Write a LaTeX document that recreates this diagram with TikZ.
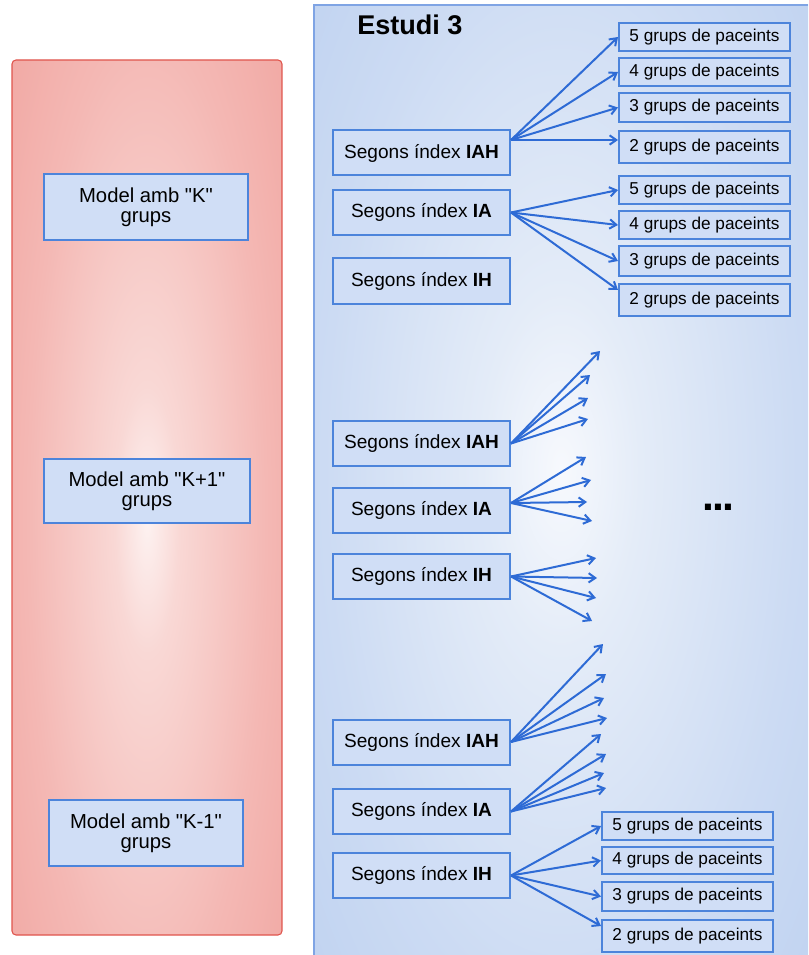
\documentclass[tikz,border=0pt]{standalone}
\usepackage{fontspec}
\setmainfont{Liberation Sans}[Ligatures=TeXOff]
\usetikzlibrary{arrows.meta,calc}
\definecolor{rA}{HTML}{FDF2F1}
\definecolor{rB}{HTML}{F9D8D5}
\definecolor{rC}{HTML}{F4B8B4}
\definecolor{rD}{HTML}{F0A29D}
\definecolor{rE}{HTML}{ED918B}
\definecolor{rF}{HTML}{EA857E}
\definecolor{bA}{HTML}{F7F9FD}
\definecolor{bB}{HTML}{E4ECF8}
\definecolor{bC}{HTML}{CCDBF3}
\definecolor{bD}{HTML}{BCD0F0}
\definecolor{bE}{HTML}{ADC5EC}
\definecolor{bF}{HTML}{A0BBE9}
\definecolor{boxfill}{HTML}{D0DEF6}
\definecolor{boxline}{HTML}{4C84DB}
\definecolor{arrowcol}{HTML}{2E6BD5}
\definecolor{redline}{HTML}{E0554D}
\definecolor{blueline}{HTML}{7FA4E4}
\pgfdeclareradialshading{redsh}{\pgfpoint{0bp}{0bp}}{color(0bp)=(rA); color(6bp)=(rB); color(22bp)=(rC); color(38bp)=(rD); color(50bp)=(rE); color(72bp)=(rF)}
\pgfdeclareradialshading{bluesh}{\pgfpoint{0bp}{0bp}}{color(0bp)=(bA); color(8bp)=(bB); color(24bp)=(bC); color(38bp)=(bD); color(50bp)=(bE); color(72bp)=(bF)}
\tikzset{
  basebox/.style={draw=boxline, fill=boxfill, line width=1.5pt, inner sep=0pt, text=black},
  segbox/.style={basebox, minimum width=132.75pt, minimum height=33.75pt, font=\fontsize{14.3}{16}\selectfont},
  pbox/.style={basebox, minimum width=128.25pt, minimum height=#1*0.75pt, font=\fontsize{12.9}{15}\selectfont},
  modbox/.style={basebox, align=center, font=\fontsize{15.2}{15}\selectfont},
  arr/.style={draw=arrowcol, line width=1.5pt, -{Straight Barb[length=5pt,width=7pt,line width=1.5pt]}}
}
\begin{document}
\begin{tikzpicture}[x=0.75pt, y=-0.75pt]
\useasboundingbox (0,0) rectangle (808,955);
\fill[white] (0,0) rectangle (808,955);
% red panel
\begin{scope}
\clip[rounded corners=3pt] (12,60) rectangle (282,935);
\shade[shading=redsh] (12,-40) rectangle (282,1080);
\end{scope}
\draw[redline, line width=0.8pt, rounded corners=3pt] (12,60) rectangle (282,935);
% blue panel
\begin{scope}
\clip (314,5) rectangle (808,955);
\shade[shading=bluesh] (314,-90) rectangle (808,1030);
\end{scope}
\draw[blueline, line width=1pt] (808,5) -- (314,5) -- (314,955);

\node[anchor=west, inner sep=0pt, font=\fontsize{20.3}{22}\selectfont\bfseries] (title) at (357,25) {Estudi 3};

% left model boxes
\node[modbox, minimum width=204*0.75pt, minimum height=66*0.75pt] (m1) at (146,207) {Model amb "K"\\grups};
\node[modbox, minimum width=206*0.75pt, minimum height=64*0.75pt] (m2) at (147,491) {Model amb "K+1"\\grups};
\node[modbox, minimum width=194*0.75pt, minimum height=66*0.75pt] (m3) at (146,833) {Model amb "K-1"\\grups};

% group 1
\node[segbox] (iah1) at (421.5,153) {Segons índex \textbf{IAH}};
\node[segbox] (ia1) at (421.5,212.5) {Segons índex \textbf{IA}};
\node[segbox] (ih1) at (421.5,281) {Segons índex \textbf{IH}};
\node[pbox=28] (p1a) at (704.5,37) {5 grups de paceints};
\node[pbox=28] (p1b) at (704.5,72) {4 grups de paceints};
\node[pbox=29] (p1c) at (704.5,107.5) {3 grups de paceints};
\node[pbox=32] (p1d) at (704.5,147) {2 grups de paceints};
\node[pbox=28] (p1e) at (704.5,190) {5 grups de paceints};
\node[pbox=28] (p1f) at (704.5,225) {4 grups de paceints};
\node[pbox=30] (p1g) at (704.5,261) {3 grups de paceints};
\node[pbox=31] (p1h) at (704.5,300) {2 grups de paceints};
\coordinate (s1) at ($(iah1.east)+(0,-13)$);
\coordinate (e1d) at ($(p1d.west)+(0,-7)$);
\coordinate (e1h) at ($(p1h.west)+(0,-10)$);
\draw[arr] (s1) -- (p1a.west);
\draw[arr] (s1) -- (p1b.west);
\draw[arr] (s1) -- (p1c.west);
\draw[arr] (s1) -- (e1d);
\draw[arr] (ia1.east) -- (p1e.west);
\draw[arr] (ia1.east) -- (p1f.west);
\draw[arr] (ia1.east) -- (p1g.west);
\draw[arr] (ia1.east) -- (e1h);

% group 2
\node[segbox] (iah2) at (421.5,443.5) {Segons índex \textbf{IAH}};
\node[segbox] (ia2) at (421.5,510) {Segons índex \textbf{IA}};
\node[segbox] (ih2) at (421.5,576.5) {Segons índex \textbf{IH}};
\coordinate (s2) at ($(ia2.east)+(0,-7)$);
\coordinate (a1) at (600,351);
\coordinate (a2) at (590,375);
\coordinate (a3) at (588,398);
\coordinate (a4) at (588,419);
\coordinate (b1) at (586,457);
\coordinate (b2) at (591,480);
\coordinate (b3) at (587,502);
\coordinate (b4) at (592,521);
\coordinate (c1) at (596,558);
\coordinate (c2) at (597,578);
\coordinate (c3) at (596,598);
\coordinate (c4) at (592,621);
\foreach \t in {a1,a2,a3,a4} \draw[arr] (iah2.east) -- (\t);
\foreach \t in {b1,b2,b3,b4} \draw[arr] (s2) -- (\t);
\foreach \t in {c1,c2,c3,c4} \draw[arr] (ih2.east) -- (\t);
\node[inner sep=0pt, font=\fontsize{32}{33}\selectfont\bfseries] (dots) at (718,507) {.\kern-1.4pt.\kern-1.4pt.};

% group 3
\node[segbox] (iah3) at (421.5,742) {Segons índex \textbf{IAH}};
\node[segbox] (ia3) at (421.5,811.5) {Segons índex \textbf{IA}};
\node[segbox] (ih3) at (421.5,875.5) {Segons índex \textbf{IH}};
\node[pbox=28] (q1) at (687.5,826) {5 grups de paceints};
\node[pbox=27] (q2) at (687.5,860.5) {4 grups de paceints};
\node[pbox=29] (q3) at (687.5,896.5) {3 grups de paceints};
\node[pbox=32] (q4) at (687.5,936) {2 grups de paceints};
\coordinate (d1) at (603,644);
\coordinate (d2) at (606,674);
\coordinate (d3) at (604,698);
\coordinate (d4) at (607,718);
\coordinate (f1) at (601,734);
\coordinate (f2) at (606,754);
\coordinate (f3) at (604,773);
\coordinate (f4) at (606,788);
\coordinate (e3d) at ($(q4.west)+(0,-10)$);
\foreach \t in {d1,d2,d3,d4} \draw[arr] (iah3.east) -- (\t);
\foreach \t in {f1,f2,f3,f4} \draw[arr] (ia3.east) -- (\t);
\draw[arr] (ih3.east) -- (q1.west);
\draw[arr] (ih3.east) -- (q2.west);
\draw[arr] (ih3.east) -- (q3.west);
\draw[arr] (ih3.east) -- (e3d);
\end{tikzpicture}
\end{document}
